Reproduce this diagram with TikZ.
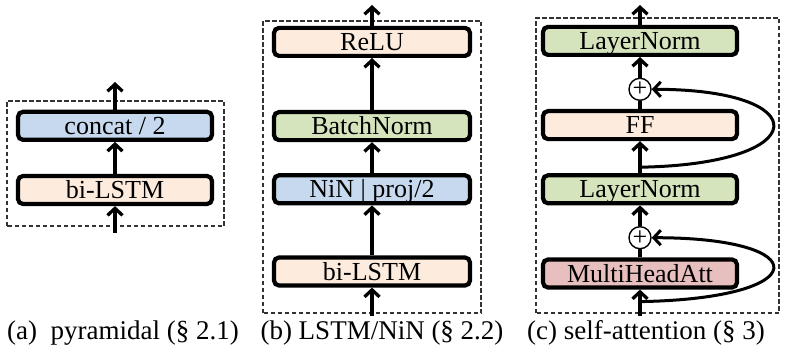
\documentclass[tikz,border=0pt]{standalone}
\usepackage{fontspec}
\setmainfont{Liberation Serif}
\usepackage{xcolor}
\usetikzlibrary{arrows.meta,positioning}

\definecolor{peach}{HTML}{FDEBDD}
\definecolor{sky}{HTML}{C6D9EE}
\definecolor{olive}{HTML}{D5E4BC}
\definecolor{rose}{HTML}{E8BFBF}

\begin{document}
\begin{tikzpicture}[
  x=1pt, y=1pt,
  font=\fontsize{26}{30}\selectfont,
  block/.style={draw, line width=4.2pt, rounded corners=5pt, minimum width=194pt, minimum height=28pt, inner sep=0pt, text height=19pt, text depth=2pt},
  addop/.style={draw, circle, line width=1.4pt, minimum size=22pt, inner sep=0pt},
  flow/.style={-{Straight Barb[length=7pt,width=15pt]}, line width=3.3pt},
  link/.style={line width=3.3pt},
  skip/.style={-{Straight Barb[length=7pt,width=15pt]}, line width=3pt},
  frame/.style={line width=1.1pt, dash pattern=on 4.5pt off 2.5pt, black!80},
  caption/.style={anchor=base, font=\fontsize{27}{30}\selectfont}
]
  \useasboundingbox (0,0) rectangle (789,346);

  % (a) pyramidal
  \draw[frame] (7,120) rectangle (224,245);
  \node[block, fill=peach] (lstm_a) at (115,156) {bi-LSTM};
  \node[block, fill=sky, above=32pt of lstm_a] (concat_a) {concat / 2};
  \coordinate (in_a) at (115,113);
  \coordinate (out_a) at (115,264);
  \draw[flow] (in_a) -- (lstm_a);
  \draw[flow] (lstm_a) -- (concat_a);
  \draw[flow] (concat_a) -- (out_a);
  \node[caption] (cap_a) at (123,7) {(a)~ pyramidal (§ 2.1)};

  % (b) LSTM/NiN
  \draw[frame] (263,33) rectangle (481,325);
  \node[block, fill=peach, minimum width=196pt] (lstm_b) at (372,74.5) {bi-LSTM};
  \node[block, fill=sky, minimum width=196pt, above=50pt of lstm_b] (nin_b) {NiN | proj/2};
  \node[block, fill=olive, minimum width=196pt, above=31pt of nin_b] (bn_b) {BatchNorm};
  \node[block, fill=peach, minimum width=196pt, above=52pt of bn_b] (relu_b) {ReLU};
  \coordinate (in_b) at (372,30);
  \coordinate (out_b) at (372,341);
  \draw[flow] (in_b) -- (lstm_b);
  \draw[flow] (lstm_b) -- (nin_b);
  \draw[flow] (nin_b) -- (bn_b);
  \draw[flow] (bn_b) -- (relu_b);
  \draw[flow] (relu_b) -- (out_b);
  \node[caption] (cap_b) at (382,7) {(b) LSTM/NiN (§ 2.2)};

  % (c) self-attention
  \draw[frame] (536,33) rectangle (779,328);
  \node[block, fill=rose] (att_c) at (640,72.5) {MultiHeadAtt};
  \node[addop, above=8pt of att_c] (sum2_c) {+};
  \node[block, fill=olive, above=52pt of att_c] (norm2_c) {LayerNorm};
  \node[block, fill=peach, above=32pt of norm2_c] (ff_c) {FF};
  \node[addop, above=8pt of ff_c] (sum1_c) {+};
  \node[block, fill=olive, above=52pt of ff_c] (norm1_c) {LayerNorm};
  \coordinate (in_c) at (640,30);
  \coordinate (out_c) at (640,341);
  \coordinate[below=12pt of att_c] (res2_c);
  \coordinate[above=6pt of norm2_c] (res1_c);
  \draw[flow] (in_c) -- (att_c);
  \draw[link] (att_c) -- (sum2_c);
  \draw[flow] (sum2_c) -- (norm2_c);
  \draw[flow] (norm2_c) -- (ff_c);
  \draw[link] (ff_c) -- (sum1_c);
  \draw[flow] (sum1_c) -- (norm1_c);
  \draw[flow] (norm1_c) -- (out_c);
  \draw[skip] (res2_c) .. controls +(175,3) and +(165,0) .. (sum2_c.east);
  \draw[skip] (res1_c) .. controls +(175,3) and +(165,0) .. (sum1_c.east);
  \node[caption] (cap_c) at (646,7) {(c) self-attention (§ 3)};
\end{tikzpicture}
\end{document}
